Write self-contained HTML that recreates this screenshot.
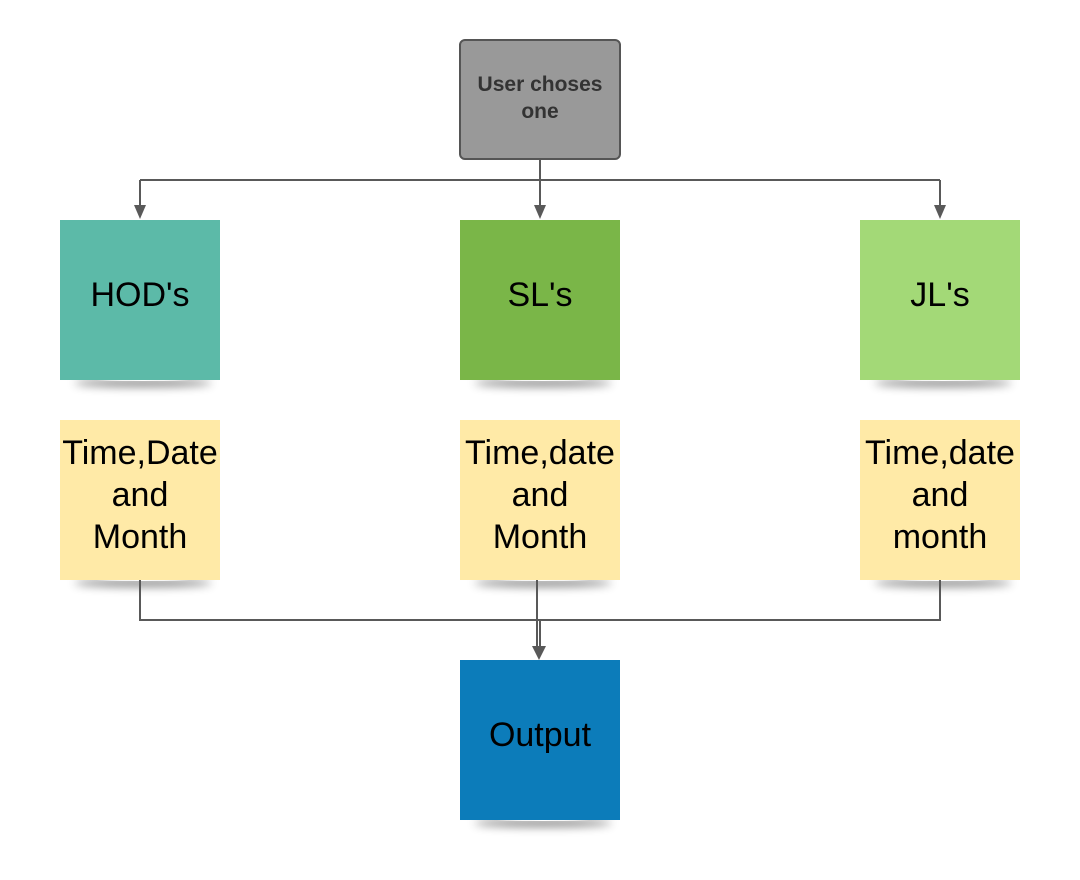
<!DOCTYPE html>
<html><head><style>
body{margin:0;background:#fff;width:1080px;height:880px;position:relative;overflow:hidden;font-family:"Liberation Sans",sans-serif}
.n{position:absolute;width:160px;height:160px;box-sizing:border-box;padding-bottom:10px;display:flex;align-items:center;justify-content:center;text-align:center;color:#000;font-size:34px;line-height:42px;white-space:nowrap}
.n::after{content:"";position:absolute;left:14px;right:8px;bottom:-1px;height:8px;box-shadow:0 6px 9px rgba(0,0,0,0.45);z-index:-1;border-radius:50%}
.g{position:absolute;left:459px;top:39px;width:158px;height:117px;background:#999;border:2px solid #555;border-radius:6px;display:flex;align-items:center;justify-content:center;text-align:center;font-weight:bold;font-size:21px;line-height:27px;color:#333}
.g span{position:relative;top:-2px}
svg{position:absolute;left:0;top:0}
</style></head><body>
<svg width="1080" height="880">
<g stroke="#595959" stroke-width="2" fill="none">
<path d="M540 160V208M140 180H940M140 180V208M940 180V208"/>
<path d="M140 580V620H940V580M537 580V648M540 620V648"/>
</g>
<g fill="#595959">
<path d="M134 205L146 205L140 219Z"/><path d="M534 205L546 205L540 219Z"/><path d="M934 205L946 205L940 219Z"/>
<path d="M532 646L546 646L539 660Z"/>
</g>
</svg>
<div class="g"><span>User choses<br>one</span></div>
<div class="n" style="left:60px;top:220px;background:#5cbaa8">HOD's</div>
<div class="n" style="left:460px;top:220px;background:#7ab648">SL's</div>
<div class="n" style="left:860px;top:220px;background:#a3d977">JL's</div>
<div class="n" style="left:60px;top:420px;background:#ffeaa7">Time,Date<br>and<br>Month</div>
<div class="n" style="left:460px;top:420px;background:#ffeaa7">Time,date<br>and<br>Month</div>
<div class="n" style="left:860px;top:420px;background:#ffeaa7">Time,date<br>and<br>month</div>
<div class="n" style="left:460px;top:660px;background:#0c7cba">Output</div>
</body></html>
